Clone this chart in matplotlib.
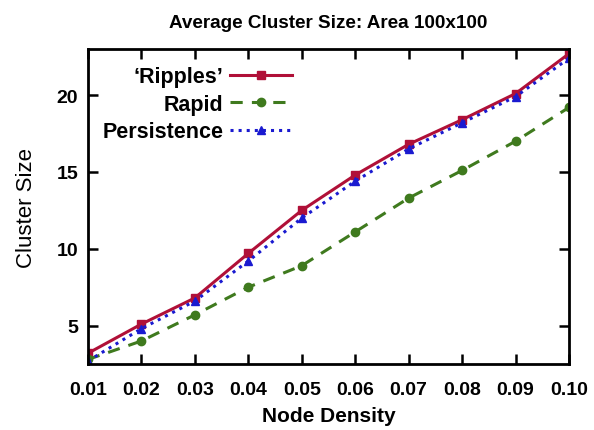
import matplotlib.pyplot as plt

density = [0.01, 0.02, 0.03, 0.04, 0.05, 0.06, 0.07, 0.08, 0.09, 0.10]
ripples = [3.2, 5.1, 6.8, 9.7, 12.5, 14.8, 16.8, 18.4, 20.1, 22.7]
rapid = [2.8, 4.0, 5.7, 7.5, 8.9, 11.1, 13.3, 15.1, 17.0, 19.2]
persistence = [2.7, 4.8, 6.6, 9.2, 12.0, 14.4, 16.5, 18.2, 19.9, 22.4]

plt.rcParams['font.family'] = ['Liberation Sans', 'DejaVu Sans']
plt.rcParams['font.weight'] = 'bold'

fig = plt.figure(figsize=(5.94, 4.31), dpi=100)
ax = fig.add_axes([0.148, 0.153, 0.81, 0.731])

ax.plot(density, ripples, color='#b01038', lw=2.2, marker='s', ms=6,
        label="\u2018Ripples\u2019")
ax.plot(density, rapid, color='#3f7a1e', lw=2.2, marker='o', ms=6,
        dashes=(4, 3), label='Rapid')
ax.plot(density, persistence, color='#1a1ad0', lw=2.2, marker='^', ms=6,
        linestyle=':', label='Persistence')

ax.set_xlim(0.01, 0.10)
ax.set_ylim(2.5, 23)
ax.set_xticks(density)
ax.set_xticklabels([f'{d:.2f}' for d in density])
ax.set_yticks([5, 10, 15, 20])
ax.tick_params(direction='in', top=True, right=True, length=7, width=1.8,
               labelsize=14, pad=7)
ax.tick_params(axis='x', pad=12)
for s in ax.spines.values():
    s.set_linewidth(2)

ax.set_title('Average Cluster Size: Area 100x100', fontsize=13.6,
             fontweight='bold', pad=16)
ax.set_xlabel('Node Density', fontsize=15, fontweight='bold', labelpad=6)
ax.set_ylabel('Cluster Size', fontsize=16, fontweight='normal', labelpad=14)

ax.legend(loc='upper left', bbox_to_anchor=(0.03, 0.945), frameon=False,
          markerfirst=False, handlelength=2.9, handletextpad=0.3,
          fontsize=15.5, labelspacing=0.3, borderpad=0, borderaxespad=0)

fig.savefig('out.png', dpi=100)
